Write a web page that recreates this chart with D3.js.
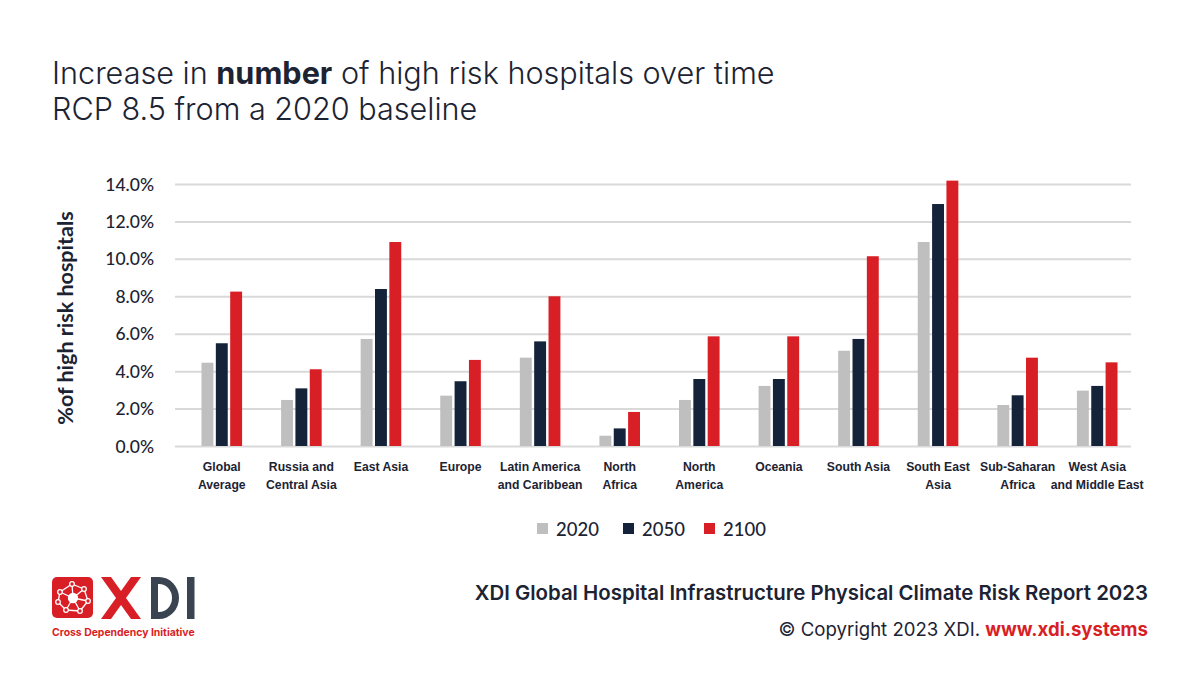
<!DOCTYPE html>
<html><head><meta charset="utf-8">
<script src="https://cdn.jsdelivr.net/npm/d3@7"></script>
<style>
html,body{margin:0;padding:0;background:#fff;}
svg{display:block;}
</style></head>
<body>
<svg id="chart" width="1200" height="687"></svg>
<script>
const categories = [
  ["Global","Average"],
  ["Russia and","Central Asia"],
  ["East Asia"],
  ["Europe"],
  ["Latin America","and Caribbean"],
  ["North","Africa"],
  ["North","America"],
  ["Oceania"],
  ["South Asia"],
  ["South East","Asia"],
  ["Sub-Saharan","Africa"],
  ["West Asia","and Middle East"]
];
const seriesNames = ["2020","2050","2100"];
const values2020 = [4.45, 2.46, 5.72, 2.69, 4.72, 0.55, 2.46, 3.21, 5.09, 10.9, 2.19, 2.96];
const values2050 = [5.49, 3.08, 8.39, 3.46, 5.59, 0.94, 3.58, 3.58, 5.72, 12.93, 2.71, 3.21];
const values2100 = [8.25, 4.10, 10.9, 4.60, 8.00, 1.82, 5.86, 5.86, 10.14, 14.18, 4.72, 4.47];
const yTicks = [0, 2, 4, 6, 8, 10, 12, 14];
const colors = ["#bfbfbf", "#14233a", "#d91f26"];

const svg = d3.select("#chart");
const dark = "#1c2333";

// Title
svg.append("text").attr("x", 52).attr("y", 84)
  .attr("font-family", "Inter, 'Open Sans', sans-serif").attr("font-size", 30.6).attr("font-weight", 300)
  .attr("fill", dark)
  .call(t => {
    t.append("tspan").text("Increase in ");
    t.append("tspan").attr("font-weight", 700).text("number");
    t.append("tspan").text(" of high risk hospitals over time");
  });
svg.append("text").attr("x", 52).attr("y", 120)
  .attr("font-family", "Inter, 'Open Sans', sans-serif").attr("font-size", 30.6).attr("font-weight", 300)
  .attr("fill", dark).text("RCP 8.5 from a 2020 baseline");

// Scales
const y = d3.scaleLinear().domain([0, 14]).range([446, 184]);
const x0 = d3.scaleBand().domain(d3.range(categories.length)).range([182, 1137]).paddingInner(0.49).paddingOuter(0.245);
const x1 = d3.scaleBand().domain(seriesNames).range([0, x0.bandwidth()]).paddingInner(0.17);

// Gridlines
const yAxis = d3.axisLeft(y).tickValues(yTicks).tickSize(-(1131 - 175)).tickFormat(d => d3.format(".1f")(d) + "%");
const gy = svg.append("g").attr("transform", "translate(175,0)").call(yAxis);
gy.select(".domain").remove();
gy.selectAll(".tick line").attr("stroke", "#d9d9d9").attr("stroke-width", 2);
gy.selectAll(".tick text").attr("x", -21).attr("dy", "0.35em")
  .attr("font-family", "Lato, 'Open Sans', sans-serif").attr("font-size", 17.5).attr("font-weight", 500)
  .attr("fill", dark);

// Bars
const allSeries = [values2020, values2050, values2100];
const groups = svg.append("g").selectAll("g").data(categories).join("g")
  .attr("transform", (d, i) => `translate(${x0(i)},0)`);
groups.selectAll("rect").data((d, i) => seriesNames.map((s, k) => ({s, k, v: allSeries[k][i]})))
  .join("rect")
  .attr("x", d => x1(d.s)).attr("width", x1.bandwidth())
  .attr("y", d => y(d.v)).attr("height", d => y(0) - y(d.v))
  .attr("fill", d => colors[d.k]);

// Category labels
const xAxis = d3.axisBottom(x0).tickSize(0).tickFormat("");
const gx = svg.append("g").attr("transform", "translate(0,446)").call(xAxis);
gx.select(".domain").remove();
gx.selectAll(".tick").each(function(i) {
  const t = d3.select(this).append("text")
    .attr("text-anchor", "middle").attr("font-family", "'Liberation Sans', Arial, sans-serif")
    .attr("font-size", 12.2).attr("font-weight", 700).attr("fill", dark).attr("y", 25);
  categories[i].forEach((line, j) => t.append("tspan").attr("x", 0).attr("dy", j === 0 ? 0 : 17.5).text(line));
});

// Y axis title
svg.append("text").attr("transform", "translate(73,318) rotate(-90)")
  .attr("text-anchor", "middle").attr("font-family", "Lato, 'Open Sans', sans-serif")
  .attr("font-size", 21.5).attr("font-weight", 700).attr("fill", dark)
  .text("%of high risk hospitals");

// Legend
const legendX = [537, 623, 704];
const lg = svg.append("g").selectAll("g").data(seriesNames).join("g")
  .attr("transform", (d, i) => `translate(${legendX[i]},523)`);
lg.append("rect").attr("width", 11).attr("height", 11).attr("fill", (d, i) => colors[i]);
lg.append("text").attr("x", 19).attr("y", 12.5)
  .attr("font-family", "Lato, 'Open Sans', sans-serif").attr("font-size", 18.5).attr("font-weight", 500)
  .attr("fill", dark).text(d => d);

// Footer
svg.append("text").attr("x", 1148).attr("y", 600).attr("text-anchor", "end")
  .attr("font-family", "Inter, 'Open Sans', sans-serif").attr("font-size", 20.4).attr("font-weight", 600)
  .attr("fill", dark).text("XDI Global Hospital Infrastructure Physical Climate Risk Report 2023");
svg.append("text").attr("x", 1148).attr("y", 636).attr("text-anchor", "end")
  .attr("font-family", "Inter, 'Open Sans', sans-serif").attr("font-size", 18.6).attr("font-weight", 400)
  .attr("fill", dark)
  .call(t => {
    t.append("tspan").text("© Copyright 2023 XDI. ");
    t.append("tspan").attr("fill", "#d91f26").attr("font-weight", 700).text("www.xdi.systems");
  });

// Logo
const logo = svg.append("g");
logo.append("rect").attr("x", 52).attr("y", 577).attr("width", 41).attr("height", 41).attr("rx", 5).attr("fill", "#d91f26");
const nodes = [[60,592],[72,584],[84,589],[88,601],[80,611],[66,610],[58,602],[73,598]];
const links = [[0,1],[1,2],[2,3],[3,4],[4,5],[5,6],[6,0],[7,0],[7,1],[7,2],[7,3],[7,4],[7,5]];
logo.selectAll("line").data(links).join("line")
  .attr("x1", d => nodes[d[0]][0]).attr("y1", d => nodes[d[0]][1])
  .attr("x2", d => nodes[d[1]][0]).attr("y2", d => nodes[d[1]][1])
  .attr("stroke", "#fff").attr("stroke-width", 1.3);
logo.selectAll("circle").data(nodes).join("circle")
  .attr("cx", d => d[0]).attr("cy", d => d[1]).attr("r", (d, i) => i === 7 ? 4.5 : 2.3)
  .attr("fill", (d, i) => i === 7 ? "#fff" : "#d91f26").attr("stroke", "#fff").attr("stroke-width", 1.3);
// X
logo.append("path").attr("d", "M101,577 L111,577 L141,619 L131,619 Z").attr("fill", "#d91f26");
logo.append("path").attr("d", "M131,577 L141,577 L111,619 L101,619 Z").attr("fill", "#d91f26");
// D
logo.append("path").attr("d", "M151,577 L159,577 A20,21 0 0 1 159,619 L151,619 Z M158,584 L158,612 L159,612 A13,14 0 0 0 159,584 Z")
  .attr("fill", "#3a4350").attr("fill-rule", "evenodd");
// I
logo.append("rect").attr("x", 187).attr("y", 577).attr("width", 7.5).attr("height", 42).attr("fill", "#3a4350");
logo.append("text").attr("x", 52).attr("y", 636)
  .attr("font-family", "Inter, 'Open Sans', sans-serif").attr("font-size", 10.4).attr("font-weight", 700)
  .attr("fill", "#d91f26").text("Cross Dependency Initiative");
</script>
</body></html>
